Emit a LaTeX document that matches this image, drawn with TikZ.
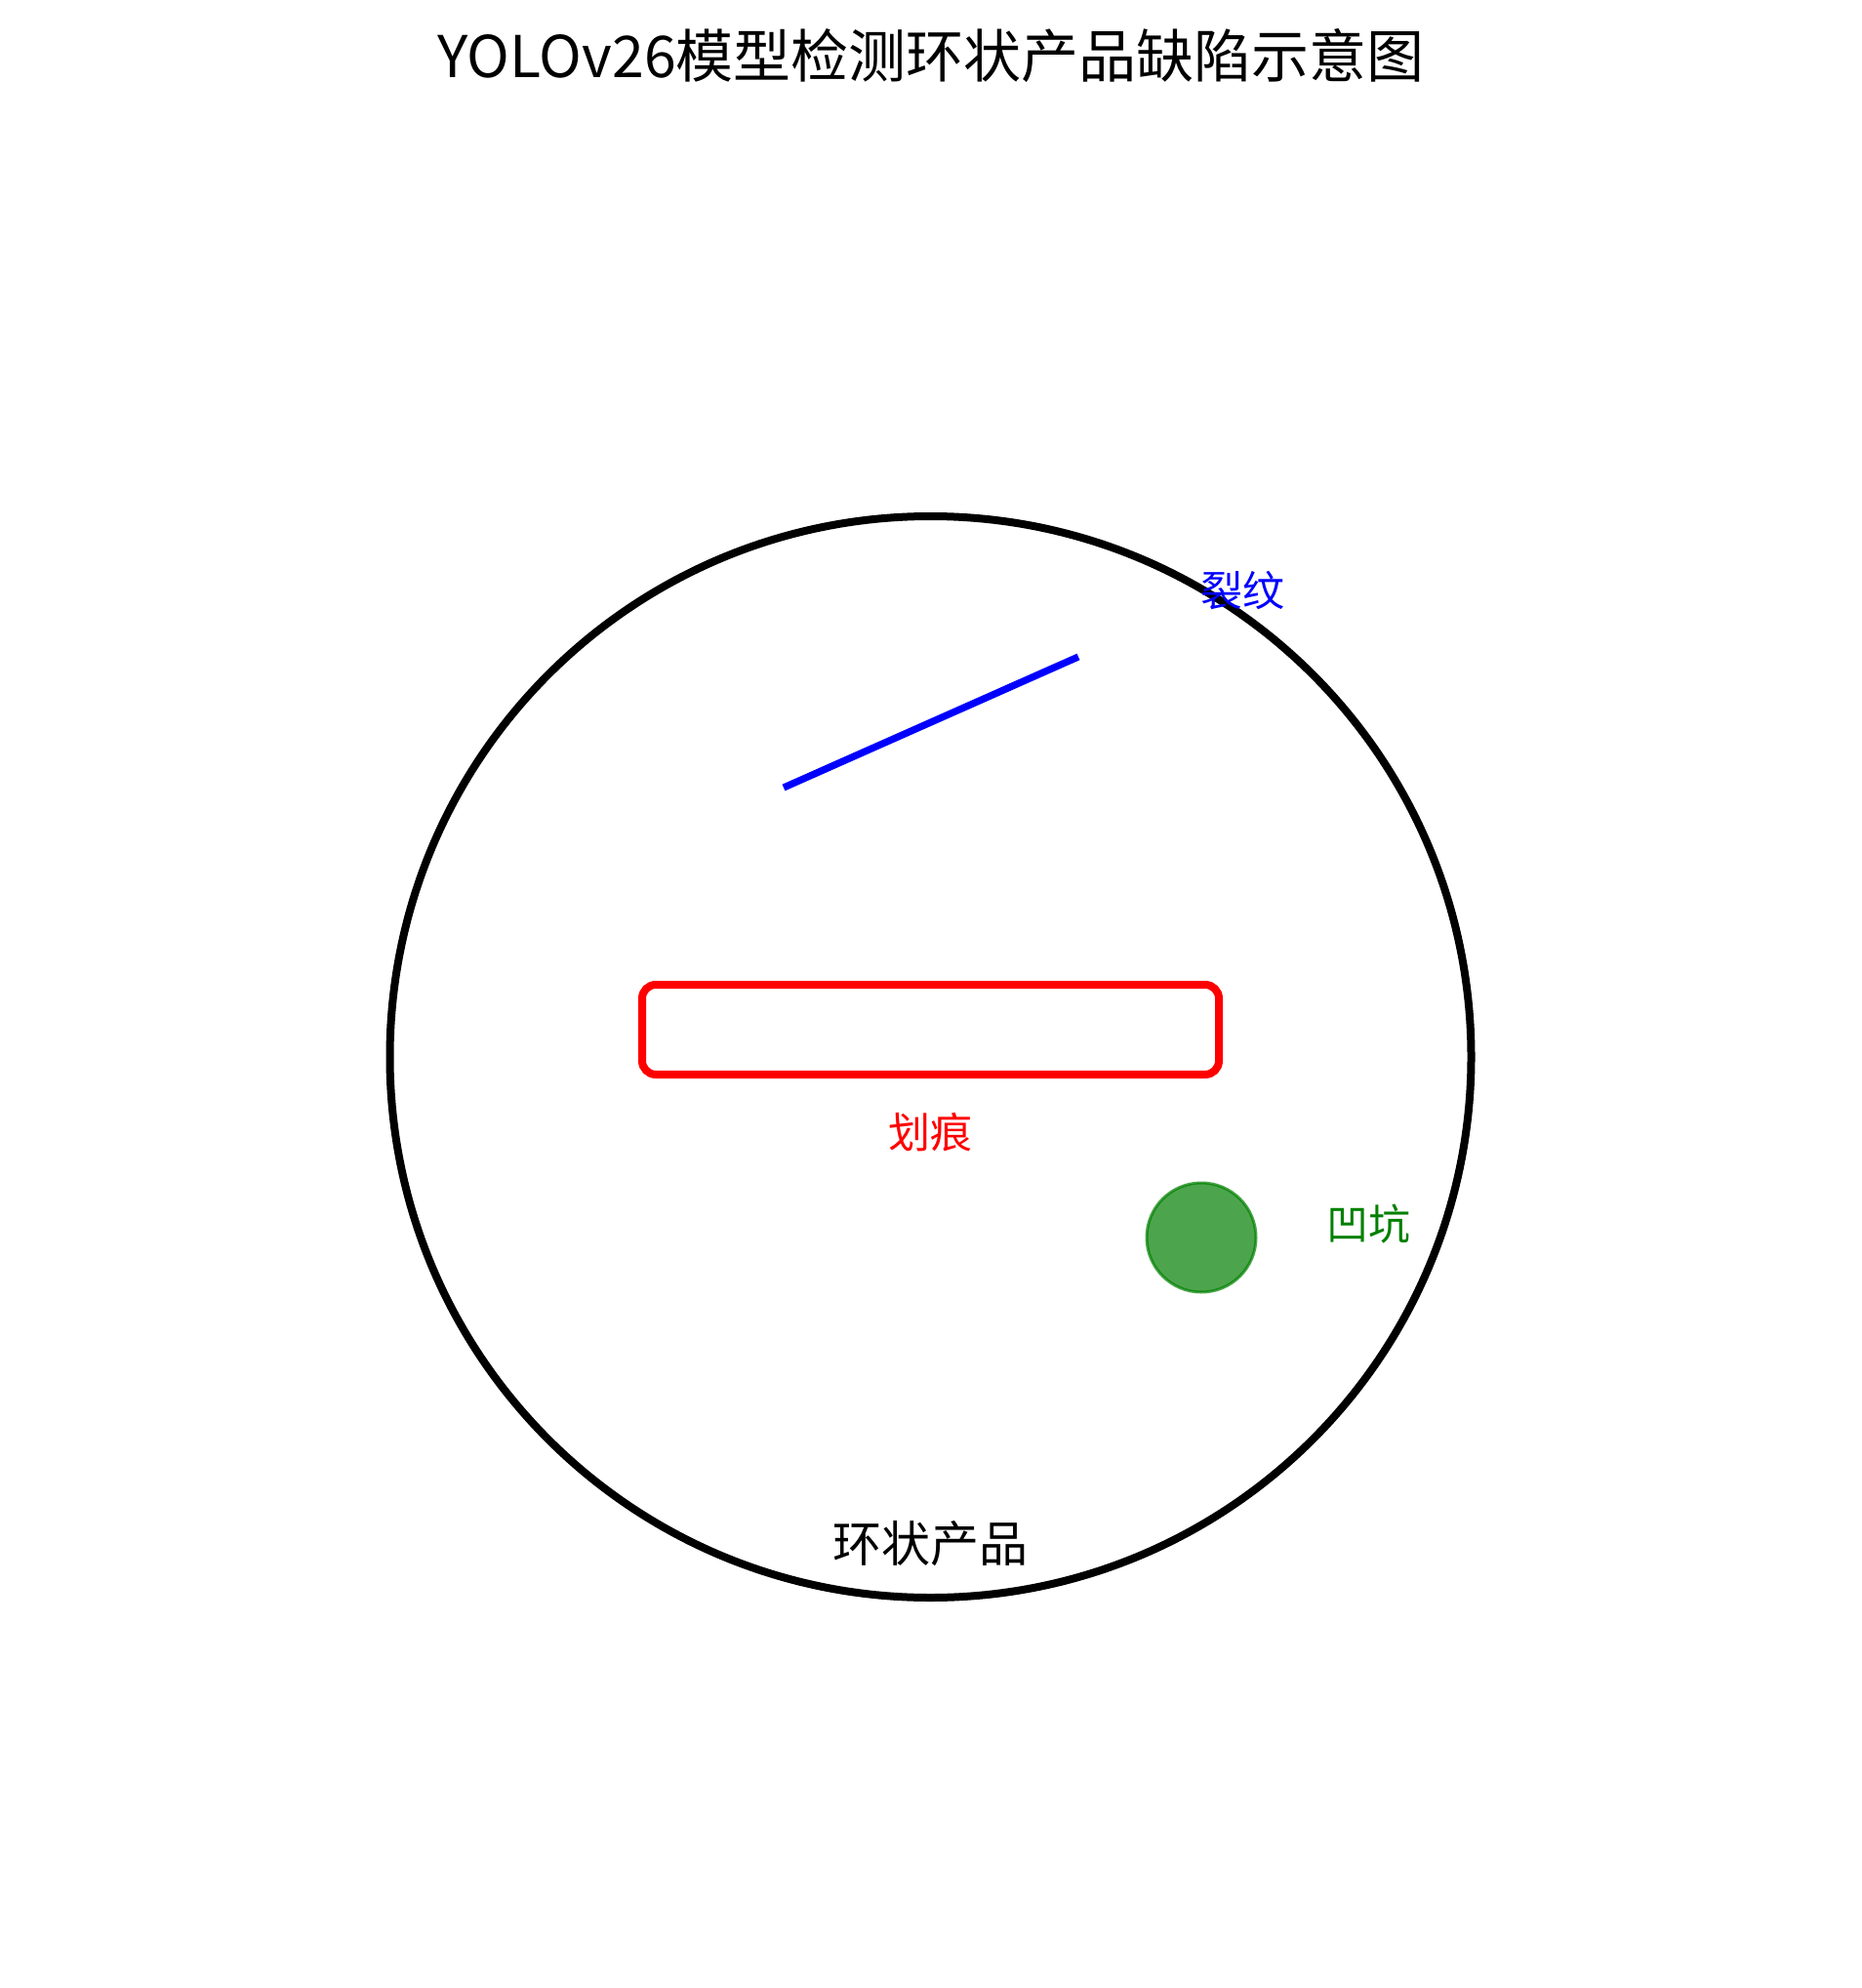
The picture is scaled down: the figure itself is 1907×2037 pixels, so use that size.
\documentclass[tikz,border=0pt]{standalone}
\usepackage{fontspec}
\setmainfont{Noto Sans CJK SC}
\definecolor{mgreen}{RGB}{0,128,0}
\tikzset{
  lbl/.style={inner sep=0pt, anchor=center},
  ring/.style={draw=black, line width=4pt},
  crack/.style={draw=blue, line width=3.6pt},
  scratch/.style={draw=red, line width=4pt, rounded corners=7pt},
  pit/.style={circle, draw=mgreen, fill=mgreen, fill opacity=0.7, draw opacity=0.7, line width=1.5pt, minimum size=56pt, inner sep=0pt}
}
\begin{document}
\begin{tikzpicture}[x=0.5pt,y=-0.5pt]
\useasboundingbox[fill=white] (0,0) rectangle (1907,2037);
% title
\node[lbl, font=\fontsize{29.5pt}{34pt}\selectfont] (title) at (954,57) {YOLOv26模型检测环状产品缺陷示意图};
% ring
\coordinate (c) at (953.5,1083);
\draw[ring] (c) circle[radius=277pt];
% crack
\coordinate (cr1) at (803,807);
\coordinate (cr2) at (1105,673);
\draw[crack] (cr1) -- (cr2);
\node[lbl, text=blue, font=\fontsize{21.5pt}{26pt}\selectfont] (crl) at (1273,605) {裂纹};
% scratch
\draw[scratch] (658,1009) rectangle (1249,1101);
\node[lbl, text=red, font=\fontsize{21.5pt}{26pt}\selectfont] (scl) at (953,1160) {划痕};
% pit
\node[pit] (p) at (1231,1268) {};
\node[lbl, text=mgreen, font=\fontsize{21.5pt}{26pt}\selectfont] (pl) at (1402,1254) {凹坑};
% product label
\node[lbl, font=\fontsize{25pt}{30pt}\selectfont] (prod) at (953,1582) {环状产品};
\end{tikzpicture}
\end{document}
